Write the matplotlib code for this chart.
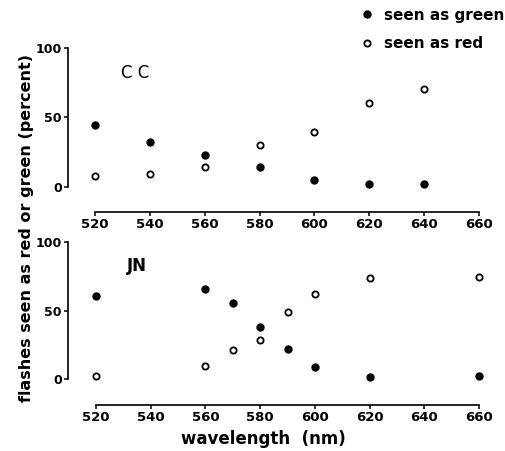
#!/usr/bin/env python
from matplotlib import pyplot as plt

# panel CC
cc_wl = [520, 540, 560, 580, 600, 620, 640]
cc_green = [44.6, 32.6, 23, 14.6, 4.8, 2, 2.2]
cc_red = [7.9, 9.6, 14.6, 30.4, 39.3, 60.4, 70.3]

# panel JN
jn_wl = [520, 560, 570, 580, 590, 600, 620, 660]
jn_green = [60.3, 65.6, 55.7, 38, 22, 9, 1.9, 2.4]
jn_red = [2.2, 9.7, 21.3, 28.6, 49.1, 62, 73.4, 74.6]

xticks = [520, 540, 560, 580, 600, 620, 640, 660]
yticks = [0, 50, 100]

W, H = 506, 451
PT = 0.72  # points per pixel at dpi 100


def setup(ax, name, name_xy, xout, yout, name_weight='normal'):
	ax.set_xlim(520, 660)
	ax.set_ylim(0, 100)
	for s in ['top', 'right']:
		ax.spines[s].set_visible(False)
	ax.spines['bottom'].set_position(('outward', xout * PT))
	ax.spines['left'].set_position(('outward', yout * PT))
	ax.spines['bottom'].set_bounds(520, 660)
	ax.spines['left'].set_bounds(0, 100)
	ax.spines['bottom'].set_linewidth(1.2)
	ax.spines['left'].set_linewidth(1.2)
	ax.set_xticks(xticks)
	ax.set_yticks(yticks)
	ax.set_xticklabels([str(t) for t in xticks], fontsize=9.5, fontweight='bold')
	ax.set_yticklabels([str(t) for t in yticks], fontsize=9, fontweight='bold')
	ax.tick_params(axis='x', direction='out', length=3, width=1.1, pad=1)
	ax.tick_params(axis='y', direction='out', length=3, width=1.1, pad=1.5)
	ax.patch.set_visible(False)
	ax.text(name_xy[0], name_xy[1], name, fontsize=12, fontweight=name_weight,
			ha='center', va='center')


fig = plt.figure(figsize=(W / 100, H / 100), dpi=100)

ax1 = fig.add_axes([95 / W, 1 - 187 / H, 384 / W, 139 / H])
ax1.plot(cc_wl, cc_green, 'o', color='black', ms=5, label='seen as green', clip_on=False)
ax1.plot(cc_wl, cc_red, 'o', mfc='white', mec='black', mew=1.3, ms=4.5, label='seen as red', clip_on=False)
setup(ax1, 'C C', (534.6, 82), 25, 27)

ax2 = fig.add_axes([96 / W, 1 - 379.3 / H, 383 / W, 137.6 / H])
ax2.plot(jn_wl, jn_green, 'o', color='black', ms=5, clip_on=False)
ax2.plot(jn_wl, jn_red, 'o', mfc='white', mec='black', mew=1.3, ms=4.5, clip_on=False)
setup(ax2, 'JN', (535, 82), 26, 28, name_weight='bold')

fig.text(263 / W, 1 - 439 / H, 'wavelength  (nm)', fontsize=12, fontweight='bold',
		 ha='center', va='center')
fig.text(27 / W, 1 - 228 / H, 'flashes seen as red or green (percent)', rotation=90,
		 fontsize=11.5, fontweight='bold', ha='center', va='center')

fig.legend(loc='upper right', bbox_to_anchor=(1.012, 1.0), frameon=False,
		   prop={'size': 11, 'weight': 'bold'}, handlelength=1.0, handletextpad=0.6,
		   labelspacing=0.9, borderaxespad=0.1)

plt.savefig('out.png', dpi=100)
